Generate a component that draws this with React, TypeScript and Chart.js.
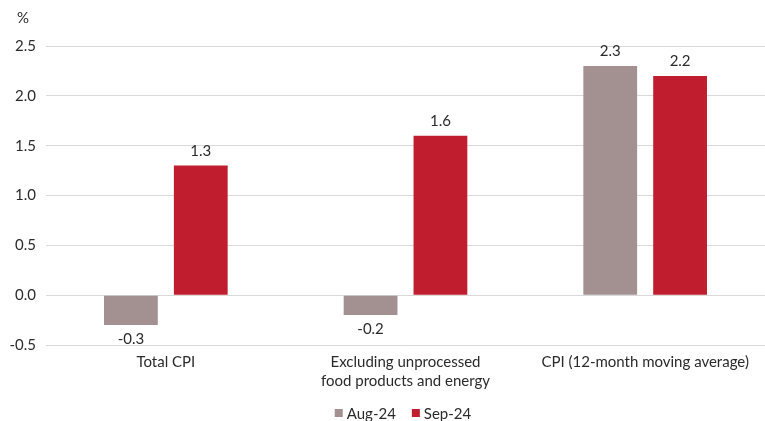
import React, { useEffect, useRef } from "react";
import { Chart, registerables } from "chart.js";

Chart.register(...registerables);

const categories: (string | string[])[] = [
  "Total CPI",
  ["Excluding unprocessed", "food products and energy"],
  "CPI (12-month moving average)",
];
const seriesNames = ["Aug-24", "Sep-24"];
const aug24 = [-0.3, -0.2, 2.3];
const sep24 = [1.3, 1.6, 2.2];
const yTicks = [-0.5, 0, 0.5, 1, 1.5, 2, 2.5];
const unitLabel = "%";

const FONT = "Lato, 'Open Sans', sans-serif";
const TEXT = "#2b2b2b";
const GRAY = "#A29190";
const RED = "#C01E2E";

const extras = {
  id: "extras",
  afterDatasetsDraw(chart: any) {
    const ctx = chart.ctx;
    ctx.save();
    ctx.font = `15px ${FONT}`;
    ctx.fillStyle = TEXT;
    ctx.textAlign = "center";
    // value labels
    chart.data.datasets.forEach((ds: any, di: number) => {
      const meta = chart.getDatasetMeta(di);
      meta.data.forEach((bar: any, i: number) => {
        const v = ds.data[i] as number;
        const txt = v.toFixed(1);
        if (v >= 0) {
          ctx.textBaseline = "bottom";
          ctx.fillText(txt, bar.x, bar.y - 7);
        } else {
          ctx.textBaseline = "top";
          ctx.fillText(txt, bar.x, bar.y + 7);
        }
      });
    });
    // unit label
    ctx.textAlign = "center";
    ctx.textBaseline = "middle";
    ctx.fillText(unitLabel, 23, 18);
    // legend
    const items = chart.data.datasets.map((ds: any) => ({
      label: ds.label,
      color: ds.backgroundColor,
    }));
    const box = 8;
    const gapText = 4;
    const gapItem = 16;
    const widths = items.map((it: any) => box + gapText + ctx.measureText(it.label).width);
    const total = widths.reduce((a: number, b: number) => a + b, 0) + gapItem * (items.length - 1);
    let x = 403 - total / 2;
    const y = 413;
    ctx.textAlign = "left";
    items.forEach((it: any, k: number) => {
      ctx.fillStyle = it.color;
      ctx.fillRect(x, y - box / 2, box, box);
      ctx.fillStyle = TEXT;
      ctx.fillText(it.label, x + box + gapText, y + 1);
      x += widths[k] + gapItem;
    });
    ctx.restore();
  },
};

export default function App() {
  const ref = useRef<HTMLCanvasElement | null>(null);

  useEffect(() => {
    if (!ref.current) return;
    const chart = new Chart(ref.current, {
      type: "bar",
      data: {
        labels: categories,
        datasets: [
          {
            label: seriesNames[0],
            data: aug24,
            backgroundColor: GRAY,
            barPercentage: 0.77,
            categoryPercentage: 0.583,
          },
          {
            label: seriesNames[1],
            data: sep24,
            backgroundColor: RED,
            barPercentage: 0.77,
            categoryPercentage: 0.583,
          },
        ],
      },
      options: {
        animation: false,
        responsive: true,
        maintainAspectRatio: false,
        layout: { padding: { top: 46, right: 0, bottom: 0, left: 0 } },
        plugins: {
          legend: { display: false },
          tooltip: { enabled: false },
        },
        scales: {
          x: {
            grid: { display: false },
            border: { display: false },
            ticks: {
              color: TEXT,
              font: { family: FONT, size: 15, lineHeight: 1.25 },
              padding: 0,
              maxRotation: 0,
              autoSkip: false,
            },
            afterFit(scale: any) {
              scale.height = 76;
            },
          },
          y: {
            min: -0.5,
            max: 2.5,
            afterBuildTicks(scale: any) {
              scale.ticks = yTicks.map((v) => ({ value: v }));
            },
            grid: { color: "#D9D9D9", lineWidth: 1, drawTicks: false },
            border: { display: false },
            ticks: {
              color: TEXT,
              font: { family: FONT, size: 15 },
              padding: 10,
              callback: (v: any) => Number(v).toFixed(1),
            },
            afterFit(scale: any) {
              scale.width = 46;
            },
          },
        },
      },
      plugins: [extras],
    });
    return () => chart.destroy();
  }, []);

  return (
    <div style={{ position: "fixed", left: 0, top: 0, width: 765, height: 421, background: "#fff" }}>
      <canvas ref={ref} />
    </div>
  );
}
